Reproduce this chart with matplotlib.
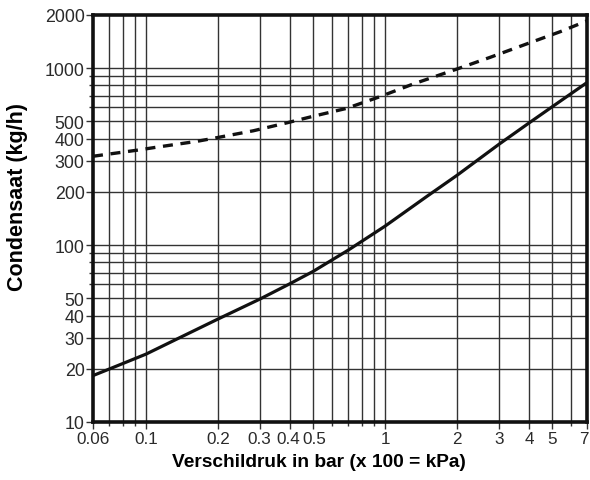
import matplotlib
matplotlib.use("Agg")
import matplotlib.pyplot as plt
import matplotlib.transforms as mtransforms
from matplotlib.ticker import FixedLocator, FixedFormatter, NullFormatter

plt.rcParams['font.family'] = ['Liberation Sans', 'DejaVu Sans']

# Data
solid_pressure = [0.06, 0.07, 0.1, 0.135, 0.2, 0.3, 0.4, 0.5, 0.7, 1.0, 1.5, 2.0, 3.0, 4.0, 5.0, 7.0]
solid_flow = [18.3, 19.9, 24.2, 29.5, 38.2, 49.6, 60.5, 71, 93.5, 128, 189, 248, 372, 490, 605, 830]
dashed_pressure = [0.06, 0.093, 0.111, 0.163, 0.194, 0.281, 0.39, 0.5, 0.69, 0.95, 1.31, 2.0, 2.75, 3.9, 5.4, 7.0]
dashed_flow = [318, 345, 358, 386, 403, 443, 492, 535, 593, 690, 814, 990, 1152, 1370, 1608, 1853]

x_ticks = [0.06, 0.1, 0.2, 0.3, 0.4, 0.5, 1, 2, 3, 4, 5, 7]
x_ticklabels = ['0.06', '0.1', '0.2', '0.3', '0.4', '0.5', '1', '2', '3', '4', '5', '7']
x_grid = [0.07, 0.08, 0.09, 0.1, 0.2, 0.3, 0.4, 0.5, 0.6, 0.7, 0.8, 0.9, 1, 2, 3, 4, 5, 6]
y_ticks = [10, 20, 30, 40, 50, 100, 200, 300, 400, 500, 1000, 2000]
y_ticklabels = ['10', '20', '30', '40', '50', '100', '200', '300', '400', '500', '1000', '2000']
y_grid = [20, 30, 40, 50, 60, 70, 80, 90, 100, 200, 300, 400, 500, 600, 700, 800, 900, 1000]

fig = plt.figure(figsize=(5.9, 4.81), dpi=100)
ax = fig.add_axes([93/590, 1 - 423/481, (587 - 93)/590, (423 - 16)/481])
ax.set_xscale('log')
ax.set_yscale('log')
ax.set_xlim(0.06, 7)
ax.set_ylim(10, 2000)

for gx in x_grid:
    ax.axvline(gx, color='#333333', lw=1.0, zorder=1)
for gy in y_grid:
    ax.axhline(gy, color='#333333', lw=1.0, zorder=1)

ax.plot(solid_pressure, solid_flow, color='#111111', lw=2.3, zorder=3,
        solid_capstyle='butt', solid_joinstyle='round')
ax.plot(dashed_pressure, dashed_flow, color='#111111', lw=2.4, zorder=3,
        linestyle=(0, (3.0, 2.3)), dash_capstyle='butt')

ax.xaxis.set_major_locator(FixedLocator(x_ticks))
ax.xaxis.set_major_formatter(FixedFormatter(x_ticklabels))
ax.xaxis.set_minor_locator(FixedLocator(x_grid))
ax.xaxis.set_minor_formatter(NullFormatter())
ax.yaxis.set_major_locator(FixedLocator(y_ticks))
ax.yaxis.set_major_formatter(FixedFormatter(y_ticklabels))
ax.yaxis.set_minor_locator(FixedLocator(y_grid))
ax.yaxis.set_minor_formatter(NullFormatter())

ax.tick_params(axis='x', which='major', direction='out', length=5, width=1, color='#333333',
               labelsize=12.3, labelcolor='#2a2a2a', pad=1.5)
ax.tick_params(axis='y', which='major', direction='out', length=5, width=1, color='#333333',
               labelsize=12.8, labelcolor='#2a2a2a', pad=1)
ax.tick_params(axis='both', which='minor', direction='out', length=3, width=1, color='#333333')

# small horizontal nudges for crowded / edge tick labels (pixels)
fig.canvas.draw()
nudges = {'0.3': -1.0, '0.4': -1.5, '0.5': 1.5, '7': -3.0}
for lab in ax.get_xticklabels():
    dx = nudges.get(lab.get_text())
    if dx:
        lab.set_transform(lab.get_transform() + mtransforms.ScaledTranslation(dx/100, 0, fig.dpi_scale_trans))

for s in ax.spines.values():
    s.set_linewidth(2.6)
    s.set_color('#111111')

ax.set_xlabel('Verschildruk in bar (x 100 = kPa)', fontsize=13.8, fontweight='bold')
ax.xaxis.set_label_coords((319 - 93) / 494, (423 - 454) / 407)
ax.set_ylabel('Condensaat (kg/h)', fontsize=15.5, fontweight='bold')
ax.yaxis.set_label_coords((28 - 93) / 494, (423 - 197) / 407)

fig.savefig('out.png', dpi=100)
